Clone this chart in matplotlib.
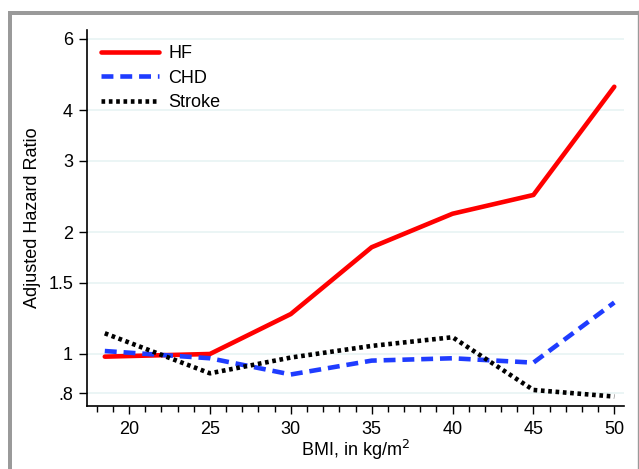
import numpy as np
import matplotlib.pyplot as plt
from matplotlib.ticker import FixedLocator, NullLocator, MultipleLocator
from matplotlib.lines import Line2D
from matplotlib.patches import Rectangle

plt.rcParams['font.family'] = ['Liberation Sans', 'DejaVu Sans']

# ИМТ и скорректированные отношения рисков
bmi = [18.5, 25, 30, 35, 40, 45, 50]
hf = [0.985, 1.0, 1.255, 1.835, 2.22, 2.47, 4.57]
chd = [1.017, 0.976, 0.89, 0.963, 0.976, 0.952, 1.34]
stroke = [1.125, 0.896, 0.98, 1.047, 1.10, 0.815, 0.785]

y_ticks = [0.8, 1, 1.5, 2, 3, 4, 6]
y_labels = ['.8', '1', '1.5', '2', '3', '4', '6']
x_ticks = [20, 25, 30, 35, 40, 45, 50]

W, H = 639, 469
fig = plt.figure(figsize=(W / 100, H / 100), dpi=100)
ax = fig.add_axes([87 / W, 1 - 406 / H, (624 - 87) / W, (406 - 30) / H])

ax.set_yscale('log')
ax.set_xlim(17.4, 50.6)
ax.set_ylim(0.744, 6.31)

ax.plot(bmi, hf, color='#ff0000', lw=3.3, solid_capstyle='round', label='HF', zorder=3)
ax.plot(bmi, chd, color='#1f3cff', lw=3.3, linestyle=(0, (2.6, 1.5)), label='CHD', zorder=3)
ax.plot(bmi, stroke, color='black', lw=3.3, linestyle=(0, (0.8, 0.8)), label='Stroke', zorder=3)

ax.yaxis.set_major_locator(FixedLocator(y_ticks))
ax.set_yticklabels(y_labels)
ax.yaxis.set_minor_locator(NullLocator())
ax.xaxis.set_major_locator(FixedLocator(x_ticks))
ax.xaxis.set_minor_locator(MultipleLocator(1))

ax.grid(True, axis='y', which='major', color='#e8f4f4', linewidth=1.2)
ax.set_axisbelow(True)

for s in ['top', 'right']:
    ax.spines[s].set_visible(False)
for s in ['left', 'bottom']:
    ax.spines[s].set_linewidth(1.2)

ax.tick_params(axis='both', which='major', length=6, width=1, labelsize=13)
ax.tick_params(axis='x', which='major', pad=5)
ax.tick_params(axis='y', which='major', pad=4)
ax.tick_params(axis='x', which='minor', length=4, width=1)

ax.set_xlabel('BMI, in kg/m$^2$', fontsize=13, labelpad=0)
ax.set_ylabel('Adjusted Hazard Ratio', fontsize=13, labelpad=5)

ax.legend(loc='upper left', frameon=False, fontsize=13, handlelength=3.2,
          handletextpad=0.5, labelspacing=0.42, borderaxespad=0,
          bbox_to_anchor=(7 / (624 - 87), 1 - 8 / (406 - 30)))

# серая рамка вокруг рисунка
gray = '#9a9a9a'
fig.add_artist(Rectangle((8 / W, 0), 4 / W, 1 - 11 / H, transform=fig.transFigure,
                         color=gray, lw=0))
fig.add_artist(Rectangle((8 / W, 1 - 15 / H), (638 - 8) / W, 4 / H,
                         transform=fig.transFigure, color=gray, lw=0))
fig.add_artist(Line2D([637.5 / W, 637.5 / W], [0, 1 - 11 / H], transform=fig.transFigure,
                      color=gray, lw=1))

fig.savefig('out.png', dpi=100)
